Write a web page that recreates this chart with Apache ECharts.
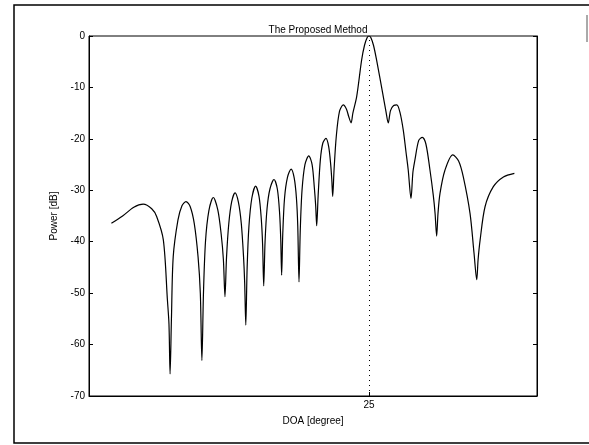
<!DOCTYPE html>
<html>
<head>
<meta charset="utf-8">
<script src="https://cdn.jsdelivr.net/npm/echarts@6/dist/echarts.min.js"></script>
<style>
html,body{margin:0;padding:0;background:#fff;}
#chart{width:589px;height:445px;}
</style>
</head>
<body>
<div id="chart"></div>
<script>
const title = 'The Proposed Method';
const xName = 'DOA [degree]';
const yName = 'Power [dB]';
const xTickValues = [25];
const yRange = [-70, 0];
const xRange = [-100, 100];

const doa = [
  -90, -85, -80, -75.8, -72, -69.8, -66.8, -65.0, -64.3, -63.8,
  -63.2, -62.4, -60.3, -58.5, -56.7, -54.8, -53, -51.3, -50.3, -49.6,
  -48.9, -48, -46.5, -44.5, -42.5, -41, -40, -39.3,
  -38.6, -37.6, -36.3, -34.8, -33.3, -32, -31, -30.5, -30.0,
  -29.4, -28.6, -27.3, -25.6, -24.1, -23.1, -22.5, -22.0,
  -21.4, -20.5, -19.2, -17.4, -15.9, -14.9, -14.4, -14.0,
  -13.5, -12.7, -11.4, -9.8, -8.4, -7.4, -6.8, -6.25,
  -5.7, -4.9, -3.6, -1.9, -0.4, 0.6, 1.2, 1.65,
  2.3, 3.3, 4.4, 5.8, 7.0, 7.9, 8.4, 8.8,
  9.4, 10.4, 11.8, 13.5, 14.9, 15.9, 17.0,
  17.8, 19.5, 21.7, 23.0, 24.2, 25, 25.8, 27.0, 28.4, 31.1, 32.5, 33.6,
  34.6, 36, 37.4, 38.8, 40.3, 41.5, 42.5, 43.75,
  44.6, 45.5, 47.2, 48.8, 50.4, 52.2, 53.7, 54.5, 55.2,
  55.8, 56.7, 58.9, 62.4, 65, 67.1, 70.1, 71.9, 73.1,
  73.7, 74.6, 76.8, 80.5, 85.0, 89.9
];
const power = [
  -36.4, -35.0, -33.3, -32.7, -33.6, -35.1, -39.7, -51.3, -56, -65.7,
  -55, -42.9, -35.8, -33.0, -32.2, -33.2, -36.5, -43, -50, -63.1,
  -50, -40, -34, -31.4, -33.8, -38.5, -43.5, -50.7,
  -43, -36.5, -32.2, -30.5, -32.3, -36.5, -43, -48, -56.2,
  -45, -37, -31.5, -29.2, -31.2, -35.5, -40.5, -48.6,
  -40, -33.5, -29.7, -27.9, -29.8, -34.5, -39.5, -46.5,
  -38.5, -31.5, -27.5, -25.9, -27.6, -31.5, -37, -47.8,
  -38, -30, -25, -23.3, -25, -29.5, -33, -36.9,
  -31, -24, -20.8, -19.9, -21.5, -25, -28, -31.2,
  -26, -19.5, -14.7, -13.4, -14.2, -15.6, -16.9,
  -15, -11.8, -4.7, -1.8, -0.3, 0, -0.3, -1.8, -4.7, -11.1, -14.5, -16.9,
  -14.5, -13.5, -13.4, -14.8, -18.3, -22.5, -26, -31.6,
  -26.5, -24.1, -20.3, -19.7, -21, -26, -31, -34.5, -38.9,
  -34.5, -30.6, -26.1, -23.1, -24.3, -27.4, -34.5, -42.3, -47.4,
  -43.5, -39.7, -33.2, -29.3, -27.4, -26.7
];

const font = 'Liberation Sans, Arial, sans-serif';
const chart = echarts.init(document.getElementById('chart'), null, {renderer: 'canvas'});
const pts = doa.map((d, i) => [d, power[i]]);

chart.setOption({
  animation: false,
  backgroundColor: '#fff',
  title: {
    text: title,
    left: 313, top: 20, textAlign: 'center',
    textStyle: {fontFamily: font, fontSize: 10, fontWeight: 'normal', color: '#000'}
  },
  grid: {left: 89, right: 52, top: 36, bottom: 49, show: true, borderColor: '#000', borderWidth: 1, backgroundColor: 'transparent'},
  xAxis: [{
    type: 'value', min: xRange[0], max: xRange[1],
    name: xName, nameLocation: 'middle', nameGap: 20,
    nameTextStyle: {fontFamily: font, fontSize: 10, color: '#000'},
    axisLine: {show: true, onZero: false, lineStyle: {color: '#000', width: 1}},
    axisTick: {show: true, inside: true, length: 4, customValues: xTickValues, lineStyle: {color: '#000'}},
    axisLabel: {show: true, customValues: xTickValues, margin: 4, fontFamily: font, fontSize: 10, color: '#000'},
    splitLine: {show: false}
  }],
  yAxis: [{
    type: 'value', min: yRange[0], max: yRange[1], interval: 10,
    name: yName, nameLocation: 'middle', nameGap: 19,
    nameTextStyle: {fontFamily: font, fontSize: 10, color: '#000'},
    axisLine: {show: true, onZero: false, lineStyle: {color: '#000', width: 1}},
    axisTick: {show: true, inside: true, length: 4, lineStyle: {color: '#000'}},
    axisLabel: {margin: 4, fontFamily: font, fontSize: 10, color: '#000'},
    splitLine: {show: false}
  }, {
    type: 'value', min: yRange[0], max: yRange[1], interval: 10, position: 'right',
    axisLine: {show: true, onZero: false, lineStyle: {color: '#000', width: 1}},
    axisTick: {show: true, inside: true, length: 4, lineStyle: {color: '#000'}},
    axisLabel: {show: false},
    splitLine: {show: false}
  }],
  graphic: [
    {type: 'rect', shape: {x: 14, y: 5, width: 620, height: 438}, style: {fill: 'none', stroke: '#000', lineWidth: 1.5}, silent: true},
    {type: 'line', shape: {x1: 587, y1: 15, x2: 587, y2: 42}, style: {stroke: '#555', lineWidth: 1}, silent: true}
  ],
  series: [{
    type: 'line',
    data: pts,
    showSymbol: false,
    smooth: 0.3,
    lineStyle: {color: '#000', width: 1.2},
    markLine: {
      silent: true, symbol: 'none', label: {show: false},
      lineStyle: {color: '#000', type: [1, 4], width: 1},
      data: [{xAxis: xTickValues[0]}]
    }
  }]
});
</script>
</body>
</html>
